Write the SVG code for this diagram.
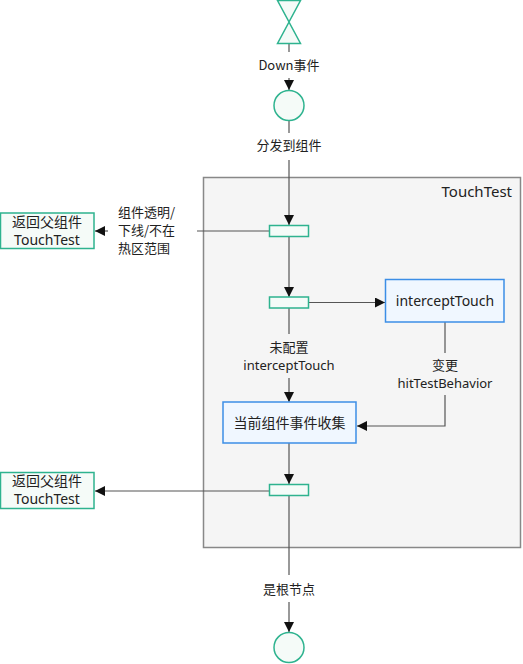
<svg xmlns="http://www.w3.org/2000/svg" width="523" height="664" viewBox="0 0 523 664">
<defs>
<style>
.g{fill:#f5fbf8;stroke:#2eb38f;stroke-width:1.5}
.b{fill:#f0f7ff;stroke:#3c8ee6;stroke-width:1.5}
.ln{fill:none;stroke:#555;stroke-width:1.2}
.t{font-family:"Noto Sans CJK SC","Noto Sans",sans-serif;font-size:13px;fill:#222;text-anchor:middle}
.n{font-family:"Noto Sans CJK SC","Noto Sans",sans-serif;font-size:14px;fill:#222;text-anchor:middle}
.l{font-family:"Noto Sans",sans-serif}
</style>
<marker id="a" viewBox="0 0 10 10" refX="10" refY="5" markerWidth="10" markerHeight="10" markerUnits="userSpaceOnUse" orient="auto">
<path d="M0,0L10,5L0,10z" fill="#111"/>
</marker>
</defs>
<g id="touchtest-group">
<rect x="203.5" y="177.5" width="317" height="370" fill="#f5f5f5" stroke="#888" stroke-width="1.5"/>
<text class="n l" x="512" y="197" style="text-anchor:end;font-size:15px">TouchTest</text>
</g>
<g id="connectors">
<line class="ln" x1="289" y1="44" x2="289" y2="52"/>
<line class="ln" x1="289" y1="78" x2="289" y2="90" marker-end="url(#a)"/>
<line class="ln" x1="289" y1="121" x2="289" y2="133"/>
<line class="ln" x1="289" y1="160" x2="289" y2="225" marker-end="url(#a)"/>
<line class="ln" x1="270" y1="231" x2="197" y2="231"/>
<line class="ln" x1="108" y1="231" x2="95" y2="231" marker-end="url(#a)"/>
<line class="ln" x1="289" y1="237" x2="289" y2="297" marker-end="url(#a)"/>
<line class="ln" x1="309" y1="302.5" x2="385" y2="302.5" marker-end="url(#a)"/>
<line class="ln" x1="289" y1="308" x2="289" y2="334"/>
<line class="ln" x1="289" y1="378" x2="289" y2="402" marker-end="url(#a)"/>
<line class="ln" x1="445" y1="322" x2="445" y2="353"/>
<polyline class="ln" points="445,395 445,426 357,426" marker-end="url(#a)"/>
<line class="ln" x1="289" y1="443" x2="289" y2="484" marker-end="url(#a)"/>
<line class="ln" x1="270" y1="491" x2="95" y2="491" marker-end="url(#a)"/>
<line class="ln" x1="289" y1="496" x2="289" y2="575"/>
<line class="ln" x1="289" y1="602" x2="289" y2="632" marker-end="url(#a)"/>
<text class="t" x="289" y="70">Down事件</text>
<text class="t" x="289" y="150">分发到组件</text>
<text class="t" x="118" y="217" style="text-anchor:start">组件透明/</text>
<text class="t" x="118" y="235" style="text-anchor:start">下线/不在</text>
<text class="t" x="118" y="253" style="text-anchor:start">热区范围</text>
<text class="t" x="289" y="352">未配置</text>
<text class="t l" x="289" y="370">interceptTouch</text>
<text class="t" x="445" y="370">变更</text>
<text class="t l" x="445" y="388">hitTestBehavior</text>
<text class="t" x="289" y="594">是根节点</text>
</g>
<g id="start">
<path class="g" d="M277.5,0.5L300.5,0.5L289,22L300.5,43.5L277.5,43.5L289,22Z"/>
</g>
<g id="down-node">
<circle class="g" cx="289" cy="105.5" r="15"/>
</g>
<g id="bar1">
<rect class="g" x="269.5" y="225.5" width="39" height="11"/>
</g>
<g id="return1">
<rect class="g" x="0.5" y="213" width="93.5" height="35.5"/>
<text class="n" x="47" y="227">返回父组件</text>
<text class="n l" x="47" y="245">TouchTest</text>
</g>
<g id="bar2">
<rect class="g" x="269.5" y="297" width="39" height="11"/>
</g>
<g id="intercept">
<rect class="b" x="385.5" y="279.5" width="118.5" height="42.5"/>
<text class="n l" x="445" y="306">interceptTouch</text>
</g>
<g id="collect">
<rect class="b" x="223" y="402" width="133" height="41"/>
<text class="n" x="289.5" y="428">当前组件事件收集</text>
</g>
<g id="bar3">
<rect class="g" x="269.5" y="484.5" width="39" height="11"/>
</g>
<g id="return2">
<rect class="g" x="0.5" y="472.5" width="93.5" height="36"/>
<text class="n" x="47" y="486">返回父组件</text>
<text class="n l" x="47" y="504">TouchTest</text>
</g>
<g id="end">
<circle class="g" cx="289" cy="647.5" r="15"/>
</g>
</svg>
